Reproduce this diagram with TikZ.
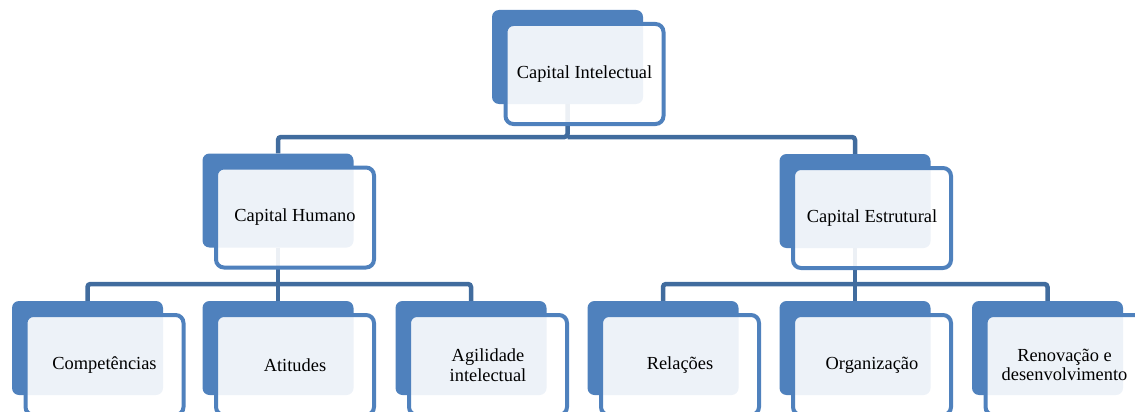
\documentclass[tikz,border=0pt]{standalone}
\usepackage{fontspec}
\setmainfont{Liberation Serif}
\usetikzlibrary{positioning}

\definecolor{boxblue}{RGB}{79,129,189}
\definecolor{linkblue}{RGB}{65,108,158}

\tikzset{
	back/.style={fill=boxblue, rounded corners=7pt, minimum width=151pt, minimum height=94pt, inner sep=0pt},
	front/.style={draw=boxblue, line width=4pt, fill=white, fill opacity=0.9, text opacity=1,
		rounded corners=8pt, minimum width=158pt, minimum height=100pt, inner sep=2pt,
		align=center, font=\fontsize{18.4}{19.5}\selectfont},
	link/.style={draw=linkblue, line width=4.5pt, rounded corners=3pt}
}

\begin{document}
\begin{tikzpicture}[x=1pt,y=-1pt]
	\clip (0,0) rectangle (1135,412);
	
	% Hintere Flaechen
	\foreach \n/\x/\y in {intel/567.5/57, human/278/200.5, estrut/855/201,
		comp/87.5/348, atit/278/348, agil/471/348, rel/663/348, org/855/348, renov/1047.5/348} {
		\node[back] (\n) at (\x,\y) {};
	}
	
	% Verbindungen
	\coordinate (k1) at (567.5,137);
	\coordinate (k2) at (278,284);
	\coordinate (k3) at (855,284);
	\draw[link] (intel.south) -- (k1) -| (human.north);
	\draw[link] (k1) -| (estrut.north);
	\draw[link] (human.south) -- (atit.north);
	\draw[link] (comp.north) |- (k2) -| (agil.north);
	\draw[link] (estrut.south) -- (org.north);
	\draw[link] (rel.north) |- (k3) -| (renov.north);
	
	% Vordere Rahmen mit Text
	\foreach \n/\t in {intel/Capital Intelectual, human/Capital Humano, estrut/Capital Estrutural,
		comp/Competências, atit/Atitudes, agil/Agilidade\\intelectual, rel/Relações,
		org/Organização, renov/Renovação e\\desenvolvimento} {
		\node[front] (\n-t) at ([xshift=17pt,yshift=-17pt]\n.center) {\t};
	}
\end{tikzpicture}
\end{document}
